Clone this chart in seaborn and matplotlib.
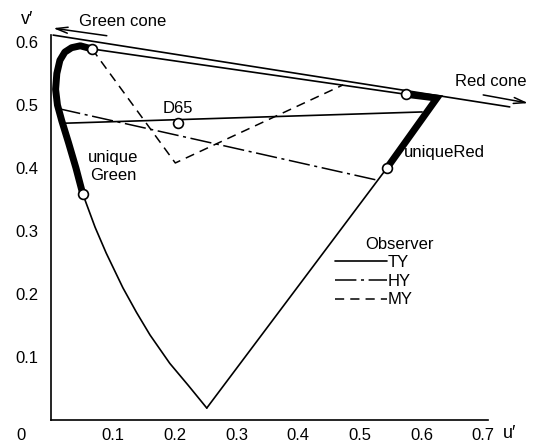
import matplotlib
matplotlib.use("Agg")
import matplotlib.pyplot as plt
from matplotlib.lines import Line2D
import seaborn as sns
import pandas as pd

# ---------------- data (u', v') ----------------
locus_lower_u = [0.252, 0.222, 0.192, 0.160, 0.138, 0.116, 0.089, 0.071, 0.051]
locus_lower_v = [0.019, 0.055, 0.090, 0.135, 0.171, 0.210, 0.265, 0.306, 0.359]

unique_green_u = [0.051, 0.040, 0.028, 0.017, 0.010, 0.007, 0.009, 0.014, 0.022, 0.033, 0.047, 0.066]
unique_green_v = [0.359, 0.400, 0.440, 0.475, 0.500, 0.525, 0.550, 0.571, 0.584, 0.591, 0.594, 0.589]

locus_top_u = [0.066, 0.575]
locus_top_v = [0.589, 0.517]

unique_red_u = [0.575, 0.625, 0.544]
unique_red_v = [0.517, 0.511, 0.400]

purple_u = [0.544, 0.252]
purple_v = [0.400, 0.019]

cone_u = [0.003, 0.743]
cone_v = [0.611, 0.497]

ty_u = [0.018, 0.601]
ty_v = [0.471, 0.489]
hy_u = [0.013, 0.527]
hy_v = [0.494, 0.381]
my_u = [0.066, 0.201, 0.473]
my_v = [0.589, 0.408, 0.532]

circle_u = [0.066, 0.051, 0.575, 0.544, 0.205]
circle_v = [0.589, 0.359, 0.517, 0.400, 0.471]

xtick_vals = [0.1, 0.2, 0.3, 0.4, 0.5, 0.6, 0.7]
xtick_labels = ["0.1", "0.2", "0.3", "0.4", "0.5", "0.6", "0.7"]
ytick_vals = [0.1, 0.2, 0.3, 0.4, 0.5, 0.6]
ytick_labels = ["0.1", "0.2", "0.3", "0.4", "0.5", "0.6"]
observers = ["TY", "HY", "MY"]

# ---------------- style ----------------
sns.set_theme(style="white")
plt.rcParams["font.family"] = ["Liberation Sans", "DejaVu Sans"]
plt.rcParams["text.color"] = "black"
FS = 12

fig = plt.figure(figsize=(5.42, 4.43), dpi=100)
ax = fig.add_axes([0, 0, 1, 1])
ax.set_xlim(-0.0831, 0.7953)
ax.set_ylim(-0.0365, 0.6667)
ax.patch.set_alpha(0)

def line(u, v, lw=1.2, ls="-", **kw):
    df = pd.DataFrame({"u": u, "v": v})
    sns.lineplot(data=df, x="u", y="v", sort=False, estimator=None, ax=ax,
                 color="black", lw=lw, linestyle=ls, **kw)

SOLID = "-"
DASHDOT = (0, (14, 3, 2, 3))
DASHED = (0, (6, 4))

line(cone_u, cone_v, lw=1.2)
line(locus_lower_u, locus_lower_v, lw=1.2)
line(locus_top_u, locus_top_v, lw=1.2)
line(purple_u, purple_v, lw=1.2)
line(ty_u, ty_v, lw=1.2, ls=SOLID)
line(hy_u, hy_v, lw=1.1, ls=DASHDOT)
line(my_u, my_v, lw=1.1, ls=DASHED)
line(unique_green_u, unique_green_v, lw=5, solid_capstyle="butt", solid_joinstyle="round")
line(unique_red_u, unique_red_v, lw=5, solid_capstyle="butt", solid_joinstyle="miter")

sns.scatterplot(x=circle_u, y=circle_v, ax=ax, s=50, color="white",
                edgecolor="black", linewidth=1.2, zorder=5)

# cone arrows
ax.annotate("", xy=(0.003, 0.622), xytext=(0.090, 0.610),
            arrowprops=dict(arrowstyle="->,head_length=0.7,head_width=0.18", color="black",
                            lw=1.1, shrinkA=0, shrinkB=0))
ax.annotate("", xy=(0.773, 0.503), xytext=(0.700, 0.516),
            arrowprops=dict(arrowstyle="->,head_length=0.7,head_width=0.18", color="black",
                            lw=1.1, shrinkA=0, shrinkB=0))

# texts
ax.text(0.115, 0.632, "Green cone", fontsize=FS, ha="center", va="center")
ax.text(0.713, 0.538, "Red cone", fontsize=FS, ha="center", va="center")
ax.text(0.205, 0.495, "D65", fontsize=FS, ha="center", va="center")
ax.text(0.100, 0.403, "unique\nGreen", fontsize=FS, ha="center", va="center",
        multialignment="center", linespacing=1.25)
ax.text(0.571, 0.424, "uniqueRed", fontsize=FS, ha="left", va="center")
ax.text(-0.039, 0.635, "v\u2032", fontsize=FS + 1, ha="center", va="center")
ax.text(0.742, -0.022, "u\u2032", fontsize=FS + 1, ha="center", va="center")
ax.text(-0.049, -0.024, "0", fontsize=FS, ha="center", va="center")
ax.text(0.565, 0.279, "Observer", fontsize=FS, ha="center", va="center")

handles = [Line2D([], [], color="black", lw=1.2, linestyle=SOLID),
           Line2D([], [], color="black", lw=1.1, linestyle=DASHDOT),
           Line2D([], [], color="black", lw=1.1, linestyle=DASHED)]
ax.legend(handles, observers, loc="upper left", bbox_to_anchor=(335 / 542, 1 - 255 / 443),
          bbox_transform=fig.transFigure, frameon=False, fontsize=FS, handlelength=3.1,
          handletextpad=0.05, labelspacing=0.22, borderpad=0, borderaxespad=0)

# axes / spines
for s in ["top", "right"]:
    ax.spines[s].set_visible(False)
ax.spines["left"].set_position(("data", 0))
ax.spines["bottom"].set_position(("data", 0))
ax.spines["left"].set_bounds(0, 0.611)
ax.spines["bottom"].set_bounds(0, 0.708)
for s in ["left", "bottom"]:
    ax.spines[s].set_color("black")
    ax.spines[s].set_linewidth(1.2)
ax.set_xticks(xtick_vals, xtick_labels)
ax.set_yticks(ytick_vals, ytick_labels)
ax.tick_params(axis="x", direction="in", length=4, width=1.1, pad=6, labelsize=FS, colors="black")
ax.tick_params(axis="y", direction="in", length=4, width=1.1, pad=9, labelsize=FS, colors="black")
ax.set_xlabel("")
ax.set_ylabel("")
ax.grid(False)

fig.savefig("out.png", dpi=100)
